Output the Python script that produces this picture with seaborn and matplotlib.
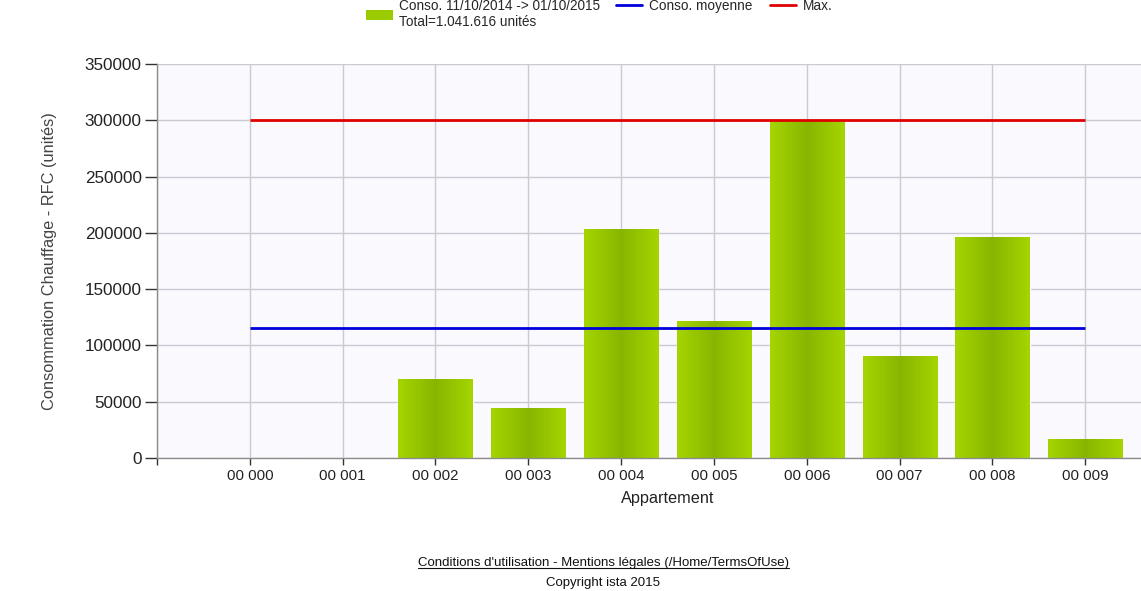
import numpy as np
import pandas as pd
import matplotlib
matplotlib.use("Agg")
import matplotlib.pyplot as plt
import seaborn as sns
from matplotlib.colors import LinearSegmentedColormap
from matplotlib.patches import Patch
from matplotlib.lines import Line2D

# data
appartements = ["00 000", "00 001", "00 002", "00 003", "00 004",
                "00 005", "00 006", "00 007", "00 008", "00 009"]
conso = [0, 0, 69800, 43700, 203400, 121700, 300200, 90400, 196000, 16400]
conso_moyenne = 115735
conso_max = 300200
y_ticks = [0, 50000, 100000, 150000, 200000, 250000, 300000, 350000]

W, H = 1141, 591

sns.set_theme(style="white")
plt.rcParams["font.family"] = ["Liberation Sans", "DejaVu Sans"]

fig = plt.figure(figsize=(W / 100, H / 100), dpi=100)
ax = fig.add_axes([157 / W, 1 - 458 / H, 1 - 157 / W, (458 - 64) / H])
ax.set_facecolor("#f9f9fe")

df = pd.DataFrame({"Appartement": appartements, "Conso": conso})
sns.barplot(data=df, x="Appartement", y="Conso", color="#9acb00",
            saturation=1, width=0.8, ax=ax, zorder=2)

# horizontal gradient on the bars (darker in the middle)
cmap = LinearSegmentedColormap.from_list("bar", ["#88b600", "#a5d500"])
grad = np.abs(np.linspace(-1, 1, 256))[None, :]
for p in list(ax.patches):
    h = p.get_height()
    if h <= 0:
        continue
    x0, w = p.get_x(), p.get_width()
    ax.imshow(grad, extent=[x0, x0 + w, 0, h], aspect="auto", cmap=cmap,
              vmin=0, vmax=1, interpolation="bilinear", zorder=2.5)

n = len(appartements)
ax.hlines(conso_max, 0, n - 1, color="#e00000", lw=2, zorder=4)
ax.hlines(conso_moyenne, 0, n - 1, color="#0000dd", lw=2, zorder=4)

ax.set_xlim(-1, 9.6)
ax.set_ylim(0, 350000)
ax.set_yticks(y_ticks)
ax.set_yticklabels([str(v) for v in y_ticks])
ax.set_xticks(list(range(-1, n)))
ax.set_xticklabels([""] + appartements)

ax.set_axisbelow(True)
ax.grid(True, color="#cacad2", lw=1)
for s in ["top", "right"]:
    ax.spines[s].set_visible(False)
for s in ["left", "bottom"]:
    ax.spines[s].set_color("#8c8c8c")
    ax.spines[s].set_linewidth(1)

ax.tick_params(axis="y", length=9, width=1, color="#333333", pad=2,
               labelsize=12.3, labelcolor="#222222", left=True)
ax.tick_params(axis="x", length=5, width=1, color="#333333", pad=3,
               labelsize=10.8, labelcolor="#222222", bottom=True)

ax.set_xlabel("Appartement", fontsize=11.7, color="#222222", labelpad=6)
ax.xaxis.set_label_coords((668 - 157) / (W - 157), -0.085)
ax.set_ylabel("Consommation Chauffage - RFC (unités)", fontsize=11.8,
              color="#444444", labelpad=20)

# legend at the top
fig.legend(handles=[Patch(facecolor="#9acb00", edgecolor="none")],
           labels=["Conso. 11/10/2014 -> 01/10/2015\nTotal=1.041.616 unités"],
           loc="upper left", bbox_to_anchor=(366 / W, 1 + 1 / H),
           frameon=False, fontsize=9.8, handlelength=2.0, handleheight=0.75,
           handletextpad=0.45, borderpad=0, borderaxespad=0)
fig.legend(handles=[Line2D([], [], color="#0000dd", lw=2),
                    Line2D([], [], color="#e00000", lw=2)],
           labels=["Conso. moyenne", "Max."], ncol=2,
           loc="upper left", bbox_to_anchor=(616 / W, 1 + 1 / H),
           frameon=False, fontsize=9.8, handlelength=1.9,
           handletextpad=0.5, columnspacing=1.3, borderpad=0, borderaxespad=0)

# footer
t = fig.text(603 / W, 1 - 563 / H,
             "Conditions d'utilisation - Mentions légales (/Home/TermsOfUse)",
             ha="center", va="center", fontsize=9.5, color="#111111")
fig.text(603 / W, 1 - 583 / H, "Copyright ista 2015",
         ha="center", va="center", fontsize=9.5, color="#111111")
fig.canvas.draw()
bb = t.get_window_extent()
fig.add_artist(Line2D([bb.x0 / W, bb.x1 / W], [(bb.y0 + 1) / H, (bb.y0 + 1) / H],
                      transform=fig.transFigure, color="#111111", lw=0.8))

fig.savefig("out.png", dpi=100)
